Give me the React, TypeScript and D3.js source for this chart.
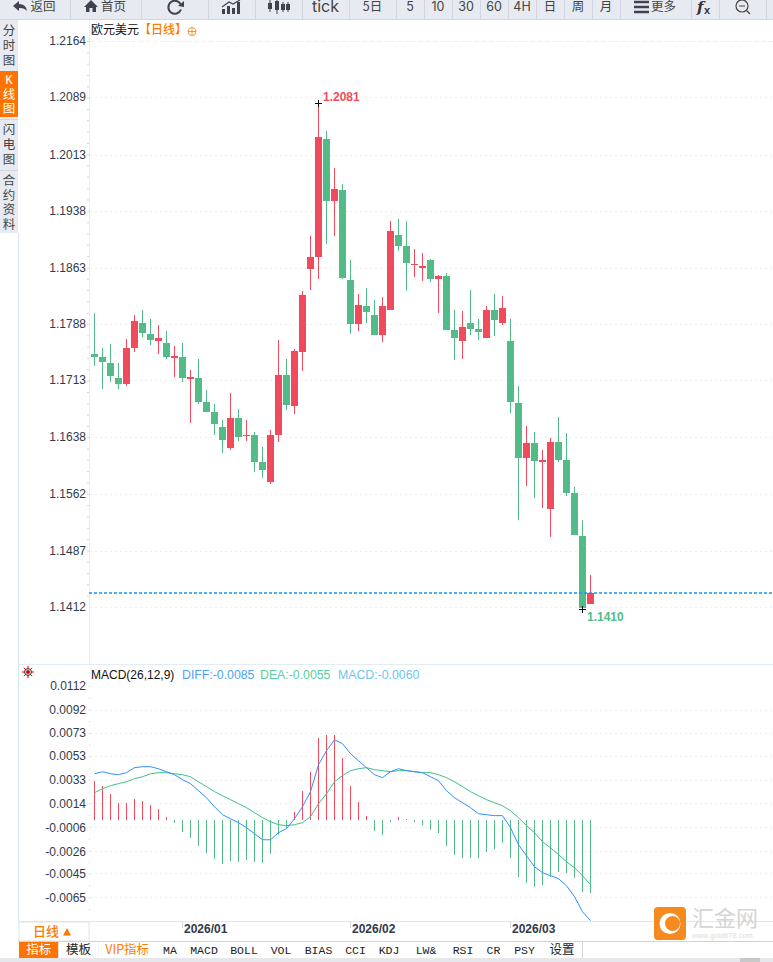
import React from "react";
import * as d3 from "d3";

const highs = [1.18026,1.17561,1.17614,1.17362,1.17681,1.18000,1.18066,1.17947,1.17867,1.17787,1.17588,1.17628,1.17269,1.17415,1.17003,1.16817,1.16605,1.16963,1.16751,1.16605,1.16445,1.16246,1.16472,1.17668,1.17415,1.17548,1.18319,1.19049,1.20806,1.20444,1.19953,1.19740,1.18730,1.18279,1.18358,1.18199,1.18239,1.19249,1.19275,1.19249,1.18877,1.18823,1.18744,1.18531,1.18558,1.18066,1.18053,1.18332,1.17947,1.18119,1.18279,1.18252,1.17947,1.17056,1.16525,1.16445,1.16206,1.16365,1.16644,1.16432,1.15714,1.15276,1.14545];
const opens = [1.17481,1.17442,1.17362,1.17163,1.17083,1.17561,1.17893,1.17747,1.17654,1.17628,1.17428,1.17442,1.17149,1.17163,1.16844,1.16711,1.16512,1.16233,1.16631,1.16392,1.16405,1.16047,1.15781,1.16405,1.17202,1.16791,1.17508,1.18611,1.18770,1.20338,1.19514,1.19660,1.18465,1.17880,1.18119,1.18000,1.17734,1.18066,1.19063,1.18916,1.18664,1.18624,1.18730,1.18478,1.18518,1.17800,1.17654,1.17893,1.17814,1.17694,1.18066,1.17893,1.17654,1.16830,1.16100,1.16299,1.16047,1.15422,1.16312,1.16073,1.15635,1.15063,1.14160];
const closes = [1.17442,1.17375,1.17189,1.17083,1.17561,1.17920,1.17761,1.17668,1.17694,1.17442,1.17455,1.17163,1.17176,1.16844,1.16711,1.16551,1.16339,1.16631,1.16379,1.16405,1.16047,1.15940,1.16405,1.17202,1.16804,1.17521,1.18265,1.18770,1.20365,1.19514,1.19674,1.18491,1.17880,1.18133,1.18040,1.17734,1.18119,1.19116,1.18916,1.18691,1.18677,1.18651,1.18478,1.18518,1.17800,1.17694,1.17840,1.17814,1.17774,1.18066,1.17933,1.18093,1.16844,1.16100,1.16299,1.16060,1.16073,1.16312,1.16073,1.15635,1.15077,1.14107,1.14306];
const lows = [1.17322,1.17016,1.17109,1.17016,1.17056,1.17508,1.17707,1.17601,1.17481,1.17415,1.17176,1.17109,1.16565,1.16817,1.16711,1.16405,1.16166,1.16206,1.16326,1.16326,1.15914,1.15834,1.15754,1.16312,1.16737,1.16684,1.17256,1.18332,1.18478,1.18943,1.19049,1.18478,1.17747,1.17787,1.17893,1.17734,1.17641,1.18066,1.18850,1.18319,1.18505,1.18451,1.18438,1.18026,1.17800,1.17402,1.17415,1.17734,1.17668,1.17694,1.17721,1.17867,1.16698,1.15276,1.15728,1.15568,1.15435,1.15050,1.16047,1.15595,1.15077,1.14098,1.14160];

const diff = [.00385,.00402,.00385,.00377,.00394,.00436,.00444,.00444,.00427,.00402,.00377,.00335,.00302,.00243,.00184,.00109,.00042,.00008,-.00025,-.00067,-.00117,-.00168,-.00168,-.00109,-.00075,.00008,.00109,.00235,.00461,.00578,.00670,.00637,.00553,.00494,.00436,.00377,.00352,.00402,.00427,.00411,.00402,.00394,.00360,.00327,.00243,.00184,.00142,.00101,.00050,.00042,.00034,.00034,-.00067,-.00210,-.00302,-.00394,-.00444,-.00469,-.00494,-.00553,-.00645,-.00771,-.00845];
const dea = [.00226,.00260,.00285,.00302,.00318,.00344,.00360,.00385,.00394,.00394,.00385,.00377,.00360,.00318,.00277,.00235,.00201,.00168,.00134,.00101,.00059,.00017,-.00017,-.00042,-.00050,-.00042,-.00025,.00025,.00134,.00218,.00318,.00369,.00411,.00427,.00436,.00419,.00411,.00402,.00411,.00411,.00402,.00394,.00394,.00377,.00352,.00318,.00277,.00235,.00201,.00168,.00142,.00117,.00075,.00017,-.00050,-.00109,-.00184,-.00235,-.00293,-.00352,-.00402,-.00469,-.00545];
const hist = [.00327,.00285,.00218,.00142,.00142,.00176,.00159,.00126,.00092,.00025,-.00025,-.00101,-.00151,-.00218,-.00277,-.00327,-.00369,-.00344,-.00352,-.00335,-.00352,-.00360,-.00285,-.00126,-.00067,.00067,.00243,.00402,.00687,.00712,.00712,.00520,.00285,.00151,.00034,-.00092,-.00126,-.00017,.00025,.00008,-.00017,-.00042,-.00084,-.00109,-.00218,-.00293,-.00318,-.00318,-.00318,-.00268,-.00243,-.00193,-.00318,-.00478,-.00528,-.00561,-.00545,-.00478,-.00436,-.00444,-.00486,-.00603,-.00612];

const priceTicks = ["1.2164","1.2089","1.2013","1.1938","1.1863","1.1788","1.1713","1.1638","1.1562","1.1487","1.1412"];
const macdTicks = ["0.0112","0.0092","0.0073","0.0053","0.0033","0.0014","-0.0006","-0.0026","-0.0045","-0.0065"];
const dateTicks = [{ index: 11, label: "2026/01" }, { index: 32, label: "2026/02" }, { index: 52, label: "2026/03" }];
const lastPrice = 1.14306;
const highLabel = "1.2081";
const lowLabel = "1.1410";

const topButtons = ["返回", "首页", "", "", "", "tick", "5日", "5", "10", "30", "60", "4H", "日", "周", "月", "更多", "", ""];
const sideTabs = ["分时图", "K线图", "闪电图", "合约资料"];
const bottomTabs = ["指标", "模板", "VIP指标", "MA", "MACD", "BOLL", "VOL", "BIAS", "CCI", "KDJ", "LW&", "RSI", "CR", "PSY", "设置"];

const W = 773, H = 962;
const RED = "#ef4b5c", GREEN = "#53bb87", ORANGE = "#ff7a00";
const SANS = "'Liberation Sans', Arial, sans-serif";
const CJK = "'Noto Sans CJK SC', 'Liberation Sans', sans-serif";

const topEdges = [0, 70, 141, 208, 255, 302, 349, 396, 424, 452, 480, 508, 536, 564, 592, 620, 691, 719, 766, 773];
const tabEdges = [19, 58.5, 98.5, 156, 184, 224, 264, 298, 339, 372, 406, 446, 480, 507, 542, 582];

const x = d3.scaleLinear().domain([0, 62]).range([94, 590]);
const yP = d3.scaleLinear().domain([1.1412, 1.2164]).range([607, 41]);
const yM = d3.scaleLinear().domain([-0.0065, 0.0112]).range([897.3, 686]);

function SideTab({ label, y0, y1, active }: { label: string; y0: number; y1: number; active?: boolean }) {
  const chars = Array.from(label);
  const step = 14.8;
  const start = (y0 + y1) / 2 - ((chars.length - 1) * step) / 2;
  return (
    <g>
      <rect x={0} y={y0} width={18} height={y1 - y0} fill={active ? "#ff7300" : "#e8eaf1"} />
      {chars.map((c, i) => (
        <text key={i} x={9} y={start + i * step + 4.5} fontSize={12.5} textAnchor="middle"
          fontFamily={c === "K" ? "'Liberation Mono', monospace" : CJK} fill={active ? "#fff" : "#444"}>{c}</text>
      ))}
    </g>
  );
}

export default function App() {
  const diffLine = d3.line<number>().x((_, i) => x(i) + 0.5).y((d) => yM(d));
  const minor = d3.range(0, 50).map((i) => 41 + i * 11.32);
  const minorM = d3.range(0, 22).map((i) => 686 + i * 11.74);

  return (
    <svg width={W} height={H} viewBox={`0 0 ${W} ${H}`} style={{ position: "fixed", left: 0, top: 0, background: "#fff" }}>
      {/* top toolbar */}
      <rect x={0} y={0} width={W} height={19} fill="#e8eaf1" />
      <rect x={0} y={19} width={W} height={1} fill="#d3d6df" />
      {topEdges.slice(1, -1).map((e) => (
        <rect key={e} x={e} y={0} width={1} height={19} fill="#d3d6df" />
      ))}
      {topButtons.map((t, i) => {
        const cx = (topEdges[i] + topEdges[i + 1]) / 2;
        if (!t) return null;
        if (i < 2 || t === "更多") {
          return <text key={i} x={cx + 8} y={11} fontSize={12.5} textAnchor="middle" fontFamily={CJK} fill="#444">{t}</text>;
        }
        return <text key={i} x={cx} y={t === "tick" ? 12 : 11} fontSize={t === "tick" ? 16 : 12.5} textAnchor="middle"
          fontFamily={/[0-9A-Za-z]/.test(t) && t !== "5日" ? "Inter, Roboto, sans-serif" : CJK} fill="#444">{t}</text>;
      })}
      {/* toolbar icons */}
      <path d="M13 6 L19 1 L19 4 Q26 4 27 11 Q24 7.5 19 8 L19 11 Z" fill="#3d4450" />
      <path d="M84 7 L91 0 L98 7 L96 7 L96 12 L92.5 12 L92.5 8 L89.5 8 L89.5 12 L86 12 L86 7 Z" fill="#3d4450" />
      <path d="M181 5 A6.5 6.5 0 1 0 181 9.5" fill="none" stroke="#3d4450" strokeWidth={2} />
      <path d="M184 1 L184 7 L178 6 Z" fill="#3d4450" />
      <path d="M222 14 V9 h3 v5 Z M227 14 V6 h3 v8 Z M232 14 V8 h3 v6 Z M237 14 V2 h3 v12 Z" fill="#3d4450" />
      <path d="M222 7 L229 2 L233 4 L240 0" fill="none" stroke="#3d4450" strokeWidth={1.2} />
      <path d="M270 0 V12 M277 0 V14 M283 2 V12 M288 2 V12" stroke="#3d4450" strokeWidth={1} />
      <path d="M268 3 h4 v6 h-4 Z M275 1 h4 v9 h-4 Z M281 4 h4 v6 h-4 Z M286 4 h4 v6 h-4 Z" fill="#3d4450" />
      <path d="M634 2 h15 M634 7 h15 M634 12 h15" stroke="#3d4450" strokeWidth={2.5} />
      <text x={697} y={12} fontSize={15} fontStyle="italic" fontWeight={700} fontFamily="'DejaVu Serif', serif" fill="#333">f</text>
      <text x={704} y={14} fontSize={11} fontWeight={700} fontFamily={SANS} fill="#333">x</text>
      <circle cx={742} cy={6} r={6} fill="none" stroke="#444" strokeWidth={1.2} />
      <path d="M739 6 h6 M746.5 10.5 L750 14" stroke="#444" strokeWidth={1.2} />

      {/* left side tabs */}
      <rect x={0} y={20} width={18} height={213} fill="#e8eaf1" />
      <SideTab label={sideTabs[0]} y0={20} y1={71} />
      <SideTab label={sideTabs[1]} y0={71} y1={117} active />
      <SideTab label={sideTabs[2]} y0={120} y1={169} />
      <SideTab label={sideTabs[3]} y0={172} y1={233} />
      <rect x={0} y={119} width={18} height={1} fill="#d3d6df" />
      <rect x={0} y={170} width={18} height={1} fill="#d3d6df" />
      <rect x={18} y={233} width={1} height={688} fill="#d9e3ec" />

      {/* price grid */}
      {priceTicks.map((t) => {
        const yy = Math.round(yP(+t)) + 0.5;
        return (
          <g key={t}>
            <line x1={90} x2={W} y1={yy} y2={yy} stroke="#eeeeee" strokeDasharray={t === priceTicks[0] ? "4 3" : "2 3"} />
            <text x={86} y={yy + 3.5} fontSize={12} textAnchor="end" fontFamily={SANS} fill="#333a4d">{t}</text>
          </g>
        );
      })}
      <rect x={89} y={20} width={1} height={644} fill="#e6eef5" />
      {minor.map((m) => <rect key={m} x={87} y={m} width={2} height={1} fill="#d5d5d5" />)}

      {/* title */}
      <text x={91} y={34} fontSize={12} fontFamily={CJK} fill="#111">欧元美元</text>
      <text x={139} y={34} fontSize={12} fontWeight={500} fontFamily={CJK} fill={ORANGE}>【日线】</text>
      <circle cx={192} cy={31.5} r={4} fill="none" stroke={ORANGE} strokeWidth={0.8} />
      <path d="M188 31.5 h8 M192 27.5 v8" stroke={ORANGE} strokeWidth={0.8} />

      {/* candles */}
      {opens.map((o, i) => {
        const c = closes[i];
        const up = c >= o;
        const color = up ? RED : GREEN;
        const top = Math.round(yP(Math.max(o, c)));
        const bot = Math.round(yP(Math.min(o, c)));
        const cx = Math.round(x(i));
        return (
          <g key={i}>
            <rect x={cx} y={Math.round(yP(highs[i]))} width={1} height={Math.round(yP(lows[i])) - Math.round(yP(highs[i]))} fill={color} />
            <rect x={cx - 3} y={top} width={7} height={Math.max(bot - top, 1)} fill={color} />
          </g>
        );
      })}

      {/* current price */}
      <line x1={89} x2={W} y1={Math.round(yP(lastPrice))} y2={Math.round(yP(lastPrice))} stroke="#1890ff" strokeWidth={1.4} strokeDasharray="3 2" />

      {/* extreme markers */}
      <path d={`M${x(28) - 3} ${Math.round(yP(+highLabel)) + 0.5} h7 M${x(28) + 0.5} ${Math.round(yP(+highLabel)) - 3} v7`} stroke="#000" strokeWidth={1} />
      <text x={323} y={101} fontSize={12} fontWeight={700} fontFamily={SANS} fill={RED}>{highLabel}</text>
      <path d={`M${x(61) - 3} ${Math.round(yP(+lowLabel)) + 0.5} h7 M${x(61) + 0.5} ${Math.round(yP(+lowLabel)) - 3} v7`} stroke="#000" strokeWidth={1} />
      <text x={587} y={621} fontSize={12} fontWeight={700} fontFamily={SANS} fill={GREEN}>{lowLabel}</text>

      {/* divider */}
      <rect x={18} y={664} width={W - 18} height={1} fill="#e4ecf3" />

      {/* MACD panel */}
      <g stroke="#e00000" strokeWidth={1}>
        <path d="M22 672 h2.5 M31.5 672 h2.5 M28 666 v2.5 M28 675.5 v2.5 M23.8 667.8 l1.8 1.8 M30.4 674.4 l1.8 1.8 M32.2 667.8 l-1.8 1.8 M25.6 674.4 l-1.8 1.8" />
        <circle cx={28} cy={672} r={3.4} fill="#fff" stroke="#222" />
      </g>
      <circle cx={28} cy={672} r={2} fill="#e00000" />
      <text x={91} y={679} fontSize={12} fontFamily={SANS} fill="#111">MACD(26,12,9)</text>
      <text x={182} y={679} fontSize={12.3} fontFamily={SANS} fill="#4ba3f5">DIFF:-0.0085</text>
      <text x={260} y={679} fontSize={12.3} fontFamily={SANS} fill="#55cfa0">DEA:-0.0055</text>
      <text x={338} y={679} fontSize={12.3} fontFamily={SANS} fill="#6cc5ea">MACD:-0.0060</text>

      {macdTicks.map((t, i) => {
        const yy = Math.round(yM(+t)) + 0.5;
        return (
          <g key={t}>
            {i > 0 && <line x1={90} x2={W} y1={yy} y2={yy} stroke="#eeeeee" strokeDasharray="2 3" />}
            <text x={86} y={yy + (i >= 5 ? 4 : 3)} fontSize={12} textAnchor="end" fontFamily={SANS} fill="#333a4d">{t}</text>
          </g>
        );
      })}
      {minorM.map((m) => <rect key={m} x={89} y={m} width={1} height={1} fill="#cfcfcf" />)}

      {hist.map((v, i) => {
        const y0 = Math.round(yM(0)), y1 = Math.round(yM(v));
        return <rect key={i} x={Math.round(x(i))} y={Math.min(y0, y1)} width={1} height={Math.max(Math.abs(y1 - y0), 1)} fill={v >= 0 ? RED : GREEN} />;
      })}
      <path d={diffLine(dea) ?? ""} fill="none" stroke="#3cc089" strokeWidth={1} />
      <path d={diffLine(diff) ?? ""} fill="none" stroke="#2e8fff" strokeWidth={1} />

      {/* x axis */}
      <rect x={18} y={921} width={W - 18} height={1} fill="#e3e6ea" />
      <rect x={19} y={922} width={70} height={19} fill="#fff" stroke="#dfe3e8" />
      <text x={33} y={936} fontSize={13} fontWeight={500} fontFamily={CJK} fill={ORANGE}>日线</text>
      <path d="M63 935.5 L71 935.5 L67 928 Z" fill={ORANGE} />
      {dateTicks.map((d) => (
        <g key={d.label}>
          <rect x={Math.round(x(d.index))} y={922} width={1} height={6} fill="#d5d8dc" />
          <text x={Math.round(x(d.index)) + 2} y={933} fontSize={12} fontWeight={700} fontFamily={SANS} fill="#333a4d">{d.label}</text>
        </g>
      ))}

      {/* bottom tabs */}
      <rect x={18} y={941} width={W - 18} height={1} fill="#cfd3da" />
      {bottomTabs.map((t, i) => {
        const a = tabEdges[i], b = tabEdges[i + 1];
        const isLatin = /^[A-Z&]+$/.test(t);
        return (
          <g key={t}>
            <rect x={a} y={942} width={b - a} height={16} fill={i === 0 ? "#ff7300" : "#fff"} />
            <rect x={b} y={942} width={1} height={16} fill="#d0d4da" />
            <text x={(a + b) / 2} y={954} fontSize={isLatin ? 11.5 : 12.5} textAnchor="middle"
              fontFamily={isLatin ? "'Liberation Mono', monospace" : CJK}
              fill={i === 0 ? "#fff" : t.startsWith("VIP") ? ORANGE : "#222"}>{t}</text>
          </g>
        );
      })}
      <rect x={0} y={958} width={W} height={4} fill="#e6e7ea" />
      <rect x={740} y={958} width={20} height={4} fill="#c8c8c8" />

      {/* watermark */}
      <rect x={654} y={907} width={32} height={33} rx={4} fill="#f58a1f" />
      <circle cx={670} cy={923.5} r={10.5} fill="#fff" />
      <circle cx={672.5} cy={923.5} r={7.5} fill="#f58a1f" />
      <text x={692} y={926} fontSize={22} fontFamily={CJK} fill="#d5d5d5">汇金网</text>
      <text x={692} y={938} fontSize={7.5} fontFamily={SANS} fill="#dcdcdc">www.gold678.com</text>
    </svg>
  );
}
